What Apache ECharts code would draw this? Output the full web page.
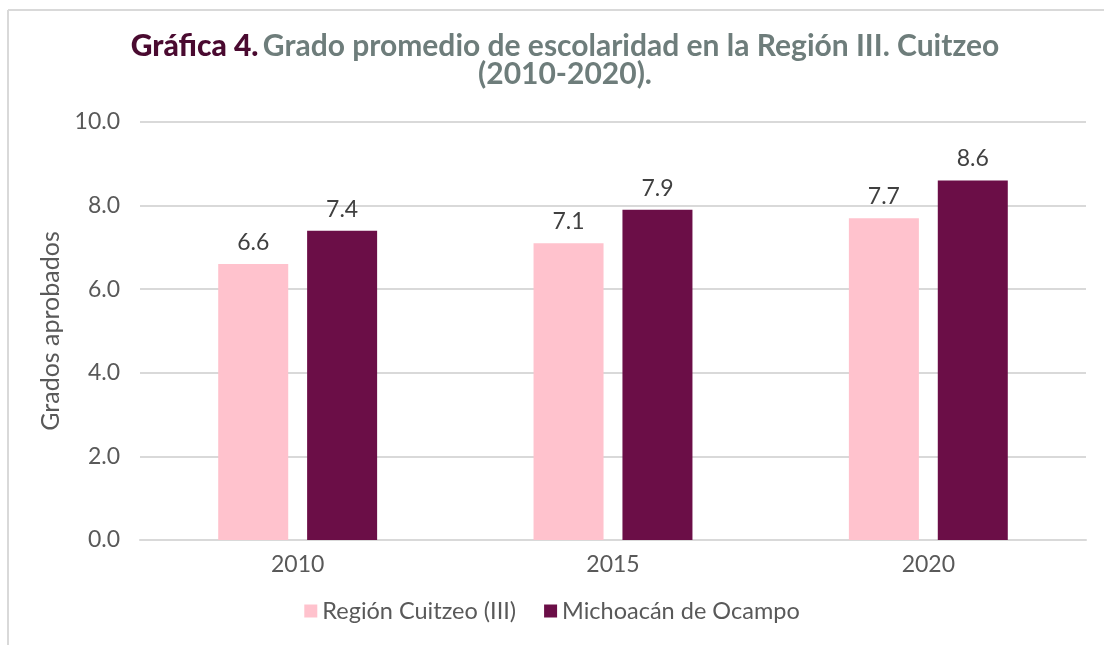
<!DOCTYPE html>
<html>
<head>
<meta charset="utf-8">
<script src="https://cdn.jsdelivr.net/npm/echarts@6/dist/echarts.min.js"></script>
<style>
  html, body { margin: 0; padding: 0; background: #fff; }
  #chart { width: 1104px; height: 645px; }
</style>
</head>
<body>
<div id="chart"></div>
<script>
// datos de la gráfica
const years = ["2010", "2015", "2020"];
const regionCuitzeo = [6.6, 7.1, 7.7];
const michoacan = [7.4, 7.9, 8.6];
const seriesNames = ["Región Cuitzeo (III)", "Michoacán de Ocampo"];

const chart = echarts.init(document.getElementById("chart"));
const font = "Lato";

chart.setOption({
  animation: false,
  textStyle: { fontFamily: font },
  title: {
    text: "{a|Gráfica 4.} {b|Grado promedio de escolaridad en la Región III. Cuitzeo}\n{b|(2010-2020).}",
    left: 560,
    top: 27,
    textAlign: "center",
    textStyle: {
      rich: {
        a: { fontFamily: font, fontSize: 30, fontWeight: 900, color: "#4a0a30", lineHeight: 28 },
        b: { fontFamily: font, fontSize: 30, fontWeight: 700, color: "#6e7d7b", lineHeight: 28 },
      },
    },
  },
  graphic: [
    { type: "line", shape: { x1: 8, y1: 10, x2: 1104, y2: 10 }, style: { stroke: "#d9d9d9", lineWidth: 2 } },
    { type: "line", shape: { x1: 8, y1: 10, x2: 8, y2: 645 }, style: { stroke: "#d9d9d9", lineWidth: 2 } },
  ],
  legend: {
    bottom: 17,
    left: "center",
    itemWidth: 13,
    itemHeight: 13,
    itemGap: 28,
    icon: "rect",
    textStyle: { fontSize: 23.5, color: "#595959", fontFamily: font },
    data: seriesNames,
  },
  grid: {
    left: 140,
    right: 18,
    top: 122,
    bottom: 105,
  },
  xAxis: {
    type: "category",
    data: years,
    axisLine: { lineStyle: { color: "#d9d9d9", width: 2 } },
    axisTick: { show: false },
    axisLabel: { fontSize: 23, color: "#595959", margin: 13 },
  },
  yAxis: {
    type: "value",
    min: 0,
    max: 10,
    interval: 2,
    name: "Grados aprobados",
    nameLocation: "middle",
    nameGap: 74,
    nameTextStyle: { fontSize: 25, color: "#595959" },
    axisLabel: {
      fontSize: 23,
      color: "#595959",
      margin: 20,
      formatter: (v) => v.toFixed(1),
    },
    splitLine: { lineStyle: { color: "#d9d9d9", width: 2 } },
  },
  series: [
    {
      name: seriesNames[0],
      type: "bar",
      data: regionCuitzeo,
      barWidth: "22.2%",
      barGap: "27%",
      itemStyle: { color: "#ffc2cd" },
      label: {
        show: true,
        position: "top",
        distance: 10,
        fontSize: 23,
        color: "#404040",
        formatter: (p) => p.value.toFixed(1),
      },
    },
    {
      name: seriesNames[1],
      type: "bar",
      data: michoacan,
      barWidth: "22.2%",
      itemStyle: { color: "#6b0e47" },
      label: {
        show: true,
        position: "top",
        distance: 10,
        fontSize: 23,
        color: "#404040",
        formatter: (p) => p.value.toFixed(1),
      },
    },
  ],
});
</script>
</body>
</html>
